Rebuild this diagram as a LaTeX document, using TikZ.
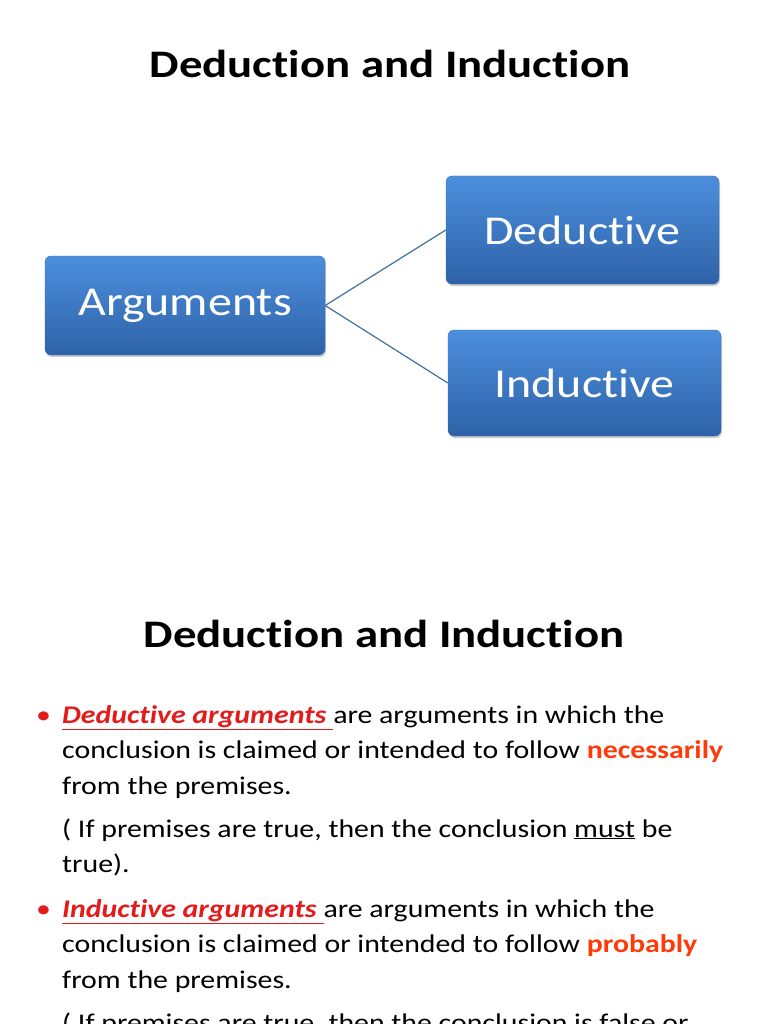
\documentclass[tikz,border=0pt]{standalone}
\usepackage{fontspec}
\usepackage{graphicx}
\setmainfont[Ligatures=NoCommon]{Carlito}
\usetikzlibrary{shadows}
\definecolor{boxtop}{HTML}{4C8FDD}
\definecolor{boxbot}{HTML}{2E62A8}
\definecolor{boxline}{HTML}{3A6FB5}
\definecolor{conn}{HTML}{41719C}
\definecolor{redu}{HTML}{E31B1B}
\definecolor{orng}{HTML}{FF3A0A}
\tikzset{
 bx/.style={rounded corners=6pt, draw=boxline, top color=boxtop, bottom color=boxbot, text=white, font=\fontsize{41}{48}\selectfont, drop shadow={shadow xshift=1pt, shadow yshift=-2pt, opacity=0.4}},
 ln/.style={anchor=base west, inner sep=0pt, font=\fontsize{25.5}{30}\selectfont},
 ttl/.style={font=\bfseries\fontsize{39}{46}\selectfont, inner sep=0pt, anchor=base}
}
\newcommand{\sx}[1]{\scalebox{1.17}[1]{#1}}
\newcommand{\redul}[1]{\textcolor{redu}{\underline{\textbf{\textit{#1}}}}}
\begin{document}
\begin{tikzpicture}[x=1pt,y=-1pt]
\path[use as bounding box, fill=white] (0,0) rectangle (768,1024);
\clip (0,0) rectangle (768,1024);
\node[ttl] (t1) at (390,78) {\scalebox{1.2}[1]{Deduction and Induction}};
\node[bx, minimum width=280pt, minimum height=99pt] (arg) at (185,305.5) {\sx{Arguments}};
\node[bx, minimum width=273pt, minimum height=108pt] (ded) at (582.5,230) {\sx{Deductive}};
\node[bx, minimum width=273pt, minimum height=106pt] (ind) at (584.5,383) {\sx{Inductive}};
\draw[conn, line width=1.2pt] (arg.east) -- (ded.west);
\draw[conn, line width=1.2pt] (arg.east) -- (ind.west);
\node[ttl] (t2) at (384,647) {\scalebox{1.2}[1]{Deduction and Induction}};
\node[ln, text=redu] (b1) at (36,723) {\sx{\textbullet}};
\node[ln] (l1) at (62,723) {\sx{\redul{Deductive arguments }are arguments in which the}};
\node[ln] (l2) at (62,758) {\sx{conclusion is claimed or intended to follow \textcolor{orng}{\textbf{necessarily}}}};
\node[ln] (l3) at (62,794) {\sx{from the premises.}};
\node[ln] (l4) at (62,837) {\sx{( If premises are true, then the conclusion \underline{must} be}};
\node[ln] (l5) at (62,872) {\sx{true).}};
\node[ln, text=redu] (b2) at (36,917) {\sx{\textbullet}};
\node[ln] (l6) at (62,917) {\sx{\redul{Inductive arguments }are arguments in which the}};
\node[ln] (l7) at (62,952) {\sx{conclusion is claimed or intended to follow \textcolor{orng}{\textbf{probably}}}};
\node[ln] (l8) at (62,988) {\sx{from the premises.}};
\node[ln] (l9) at (62,1031) {\sx{( If premises are true, then the conclusion is false or}};
\end{tikzpicture}
\end{document}
